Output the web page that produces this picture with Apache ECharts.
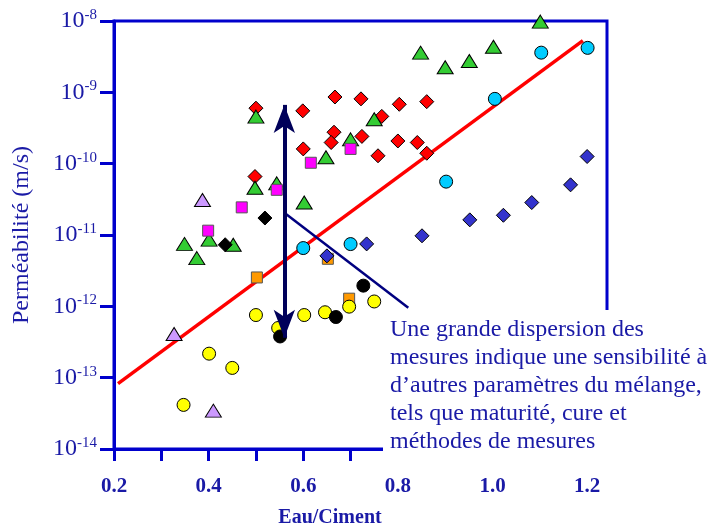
<!DOCTYPE html>
<html>
<head>
<meta charset="utf-8">
<script src="https://cdn.jsdelivr.net/npm/echarts@6/dist/echarts.min.js"></script>
<style>
  html, body { margin: 0; padding: 0; background: #fff; }
  #main { width: 715px; height: 530px; }
</style>
</head>
<body>
<div id="main"></div>
<script>
// [E/C, permeabilite m/s]
var redDiamonds = [
  [0.500, 6.0e-10], [0.599, 5.5e-10], [0.667, 8.6e-10], [0.722, 8.1e-10],
  [0.803, 6.8e-10], [0.861, 7.4e-10], [0.766, 4.6e-10], [0.665, 2.76e-10],
  [0.659, 1.98e-10], [0.724, 2.41e-10], [0.600, 1.61e-10], [0.758, 1.29e-10],
  [0.800, 2.08e-10], [0.841, 1.98e-10], [0.861, 1.40e-10], [0.498, 6.6e-11]
];
var greenTriangles = [
  [0.500, 4.57e-10], [0.750, 4.2e-10], [0.700, 2.19e-10], [0.648, 1.23e-10],
  [0.498, 4.6e-11], [0.544, 5.3e-11], [0.602, 2.85e-11], [0.349, 7.5e-12],
  [0.401, 8.6e-12], [0.452, 7.3e-12], [0.375, 4.74e-12], [1.101, 9.8e-9],
  [0.848, 3.6e-9], [0.900, 2.25e-9], [0.951, 2.75e-9], [1.002, 4.36e-9]
];
var lilacTriangles = [[0.387, 3.1e-11], [0.327, 4.1e-13], [0.410, 3.45e-14]];
var pinkSquares = [
  [0.700, 1.61e-10], [0.616, 1.03e-10], [0.544, 4.3e-11], [0.470, 2.44e-11], [0.399, 1.15e-11]
];
var blackDiamonds = [[0.519, 1.73e-11], [0.435, 7.3e-12]];
var orangeSquares = [[0.502, 2.54e-12], [0.652, 4.64e-12], [0.697, 1.28e-12]];
var cyanCircles = [
  [0.600, 6.56e-12], [0.700, 7.46e-12], [0.902, 5.6e-11],
  [1.005, 8.1e-10], [1.103, 3.6e-9], [1.201, 4.2e-9]
];
var blueDiamonds = [
  [0.650, 5.1e-12], [0.734, 7.5e-12], [0.851, 9.75e-12], [0.952, 1.63e-11],
  [1.023, 1.89e-11], [1.083, 2.85e-11], [1.165, 5.05e-11], [1.200, 1.26e-10]
];
var yellowCircles = [
  [0.697, 9.9e-13], [0.750, 1.17e-12], [0.500, 7.55e-13], [0.602, 7.55e-13],
  [0.646, 8.26e-13], [0.547, 4.97e-13], [0.401, 2.17e-13], [0.450, 1.37e-13],
  [0.347, 4.15e-14]
];
var blackCircles = [[0.727, 1.95e-12], [0.669, 7.08e-13], [0.551, 3.78e-13]];

var regressionLine = [[0.2085, 8.24e-14], [1.191, 5.3e-9]];
var dispersionArrow = [[0.560, 6.67e-10], [0.560, 3.63e-13]];
var pointerLine = [[0.560, 2.05e-11], [0.822, 9.55e-13]];

var noteLines = [
  'Une grande dispersion des',
  'mesures indique une sensibilité à',
  'd\u2019autres paramètres du mélange,',
  'tels que maturité, cure et',
  'méthodes de mesures'
];

var serif = '"Liberation Serif", "Times New Roman", serif';
var axisBlue = '#0000cc';
var textBlue = '#1a1aa6';

function pts(name, data, symbol, size, color, border) {
  return {
    name: name, type: 'scatter', data: data, symbol: symbol, symbolSize: size,
    itemStyle: { color: color, borderColor: border || '#000', borderWidth: 1, opacity: 1 },
    z: 3
  };
}

var myChart = echarts.init(document.getElementById('main'));
var option = {
  backgroundColor: '#fff',
  animation: false,
  grid: { left: 114, right: 108, top: 21, bottom: 81, show: true, borderColor: axisBlue, borderWidth: 3 },
  xAxis: {
    type: 'value', min: 0.2, max: 1.242, interval: 0.1,
    splitLine: { show: false },
    axisLine: { lineStyle: { color: axisBlue, width: 3 } },
    axisTick: { inside: false, length: 12, lineStyle: { color: axisBlue, width: 3 } },
    axisLabel: {
      margin: 27, color: textBlue, fontFamily: serif, fontSize: 21, fontWeight: 'bold',
      showMaxLabel: false,
      formatter: function (v) {
        var t = v * 10, r = Math.round(t);
        if (Math.abs(t - r) > 1e-6 || r % 2 !== 0) return '';
        return v.toFixed(1);
      }
    }
  },
  yAxis: {
    type: 'log', logBase: 10, min: 1e-14, max: 1e-8,
    splitLine: { show: false },
    axisLine: { lineStyle: { color: axisBlue, width: 3 } },
    axisTick: { inside: false, length: 14, lineStyle: { color: axisBlue, width: 3 } },
    name: 'Perméabilité (m/s)', nameLocation: 'middle', nameGap: 80,
    nameTextStyle: { color: textBlue, fontFamily: serif, fontSize: 24 },
    axisLabel: {
      margin: 17, color: textBlue, fontFamily: serif,
      formatter: function (v) {
        return '{b|10}{s|' + Math.round(Math.log10(v)) + '}';
      },
      rich: {
        b: { fontSize: 24, fontFamily: serif, color: textBlue },
        s: { fontSize: 15, fontFamily: serif, color: textBlue, verticalAlign: 'top', padding: [0, 0, 12, 0] }
      }
    }
  },
  graphic: [
    { type: 'rect', shape: { x: 383, y: 310, width: 332, height: 160 }, style: { fill: '#fff' }, z: 100 },
    { type: 'text', x: 390, y: 316, z: 101,
      style: { text: noteLines.join('\n'), font: '24px ' + serif, lineHeight: 28, fill: textBlue } },
    { type: 'text', x: 330, y: 518, z: 101,
      style: { text: 'Eau/Ciment', font: 'bold 20px ' + serif, fill: textBlue, align: 'center', verticalAlign: 'middle' } }
  ],
  series: [
    { name: 'regression', type: 'line', data: regressionLine, symbol: 'none', silent: true,
      lineStyle: { color: '#ff0000', width: 3.5 }, z: 2 },
    pts('r', redDiamonds, 'diamond', 14, '#ff0000'),
    pts('g', greenTriangles, 'triangle', [16, 13], '#33cc33'),
    pts('l', lilacTriangles, 'triangle', [16, 13], '#cc99ff'),
    pts('p', pinkSquares, 'rect', 11, '#ff00ff', '#555'),
    pts('k', blackDiamonds, 'diamond', 14, '#000000'),
    pts('o', orangeSquares, 'rect', 11, '#ff9900', '#555'),
    pts('c', cyanCircles, 'circle', 13, '#00ccff'),
    pts('b', blueDiamonds, 'diamond', 14, '#3333cc'),
    pts('y', yellowCircles, 'circle', 13, '#ffff00'),
    pts('kc', blackCircles, 'circle', 13, '#000000'),
    { name: 'pointer', type: 'line', data: pointerLine, symbol: 'none', silent: true,
      lineStyle: { color: '#000080', width: 2.5 }, z: 4 },
    { name: 'arrow', type: 'scatter', data: [], silent: true, z: 5,
      markLine: {
        silent: true, symbol: ['arrow', 'arrow'], symbolSize: [16, 28],
        label: { show: false },
        lineStyle: { color: '#00005a', width: 4, type: 'solid' },
        emphasis: { disabled: true },
        data: [[{ coord: dispersionArrow[0] }, { coord: dispersionArrow[1] }]]
      }
    }
  ]
};
myChart.setOption(option);
</script>
</body>
</html>
